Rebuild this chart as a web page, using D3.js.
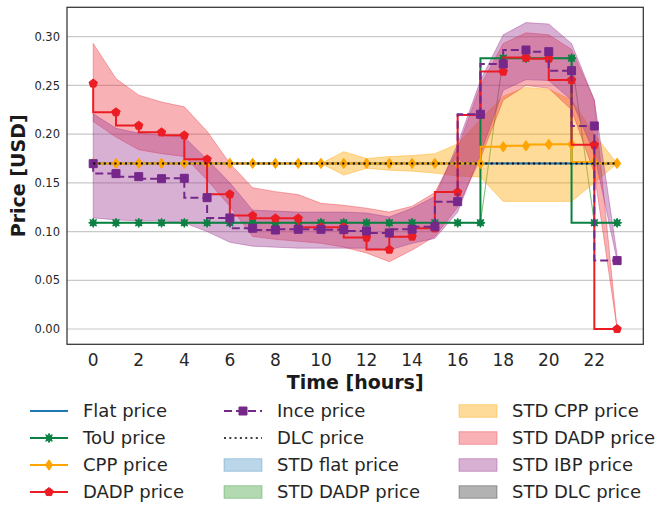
<!DOCTYPE html>
<html>
<head>
<meta charset="utf-8">
<script src="https://cdn.jsdelivr.net/npm/d3@7"></script>
<style>
  body { margin: 0; background: #fff; }
  text { font-family: "DejaVu Sans", sans-serif; }
</style>
</head>
<body>
<svg id="chart" width="659" height="508"></svg>
<script>
// Hour of day
const hours = [0,1,2,3,4,5,6,7,8,9,10,11,12,13,14,15,16,17,18,19,20,21,22,23];

// Price series [USD]
const flatPrice = [0.17,0.17,0.17,0.17,0.17,0.17,0.17,0.17,0.17,0.17,0.17,0.17,0.17,0.17,0.17,0.17,0.17,0.17,0.17,0.17,0.17,0.17,0.17,0.17];
const touPrice  = [0.109,0.109,0.109,0.109,0.109,0.109,0.109,0.109,0.109,0.109,0.109,0.109,0.109,0.109,0.109,0.109,0.109,0.109,0.278,0.278,0.278,0.278,0.109,0.109];
const cppPrice  = [0.17,0.17,0.17,0.17,0.17,0.17,0.17,0.17,0.17,0.17,0.17,0.17,0.17,0.17,0.17,0.17,0.17,0.17,0.187,0.188,0.1895,0.1896,0.1715,0.17];
const dadpPrice = [0.252,0.2225,0.2088,0.2019,0.1988,0.1742,0.1383,0.1164,0.1136,0.1136,0.1045,0.1045,0.0938,0.0815,0.0948,0.1034,0.1405,0.2197,0.2642,0.2786,0.2775,0.2555,0.189,0.0];
const incePrice = [0.1697,0.1595,0.1564,0.1543,0.1547,0.1348,0.114,0.1034,0.1016,0.1023,0.1023,0.1020,0.1006,0.0986,0.1023,0.105,0.1307,0.2204,0.272,0.2864,0.2847,0.2652,0.2084,0.0702];
const dlcPrice  = [0.17,0.17,0.17,0.17,0.17,0.17,0.17,0.17,0.17,0.17,0.17,0.17,0.17,0.17,0.17,0.17,0.17,0.17,0.17,0.17,0.17,0.17,0.17,0.17];

// Standard-deviation bands (lower / upper edge)
const cppLow   = [0.17,0.17,0.17,0.17,0.17,0.17,0.17,0.17,0.17,0.17,0.17,0.158,0.165,0.163,0.162,0.160,0.157,0.156,0.131,0.131,0.131,0.131,0.150,0.17];
const cppHigh  = [0.17,0.17,0.17,0.17,0.17,0.17,0.17,0.17,0.17,0.17,0.17,0.182,0.175,0.177,0.178,0.180,0.190,0.215,0.239,0.248,0.246,0.235,0.200,0.17];
const dadpLow  = [0.213,0.197,0.184,0.180,0.177,0.153,0.126,0.095,0.092,0.090,0.088,0.084,0.078,0.069,0.081,0.095,0.125,0.175,0.235,0.250,0.247,0.225,0.160,0.0];
const dadpHigh = [0.293,0.257,0.240,0.233,0.228,0.203,0.170,0.145,0.141,0.138,0.129,0.127,0.124,0.120,0.126,0.140,0.185,0.250,0.293,0.304,0.302,0.287,0.235,0.0];
const ibpLow   = [0.114,0.112,0.111,0.111,0.109,0.100,0.089,0.085,0.084,0.083,0.083,0.083,0.083,0.081,0.088,0.093,0.120,0.180,0.245,0.256,0.255,0.235,0.180,0.070];
const ibpHigh  = [0.221,0.206,0.201,0.199,0.197,0.174,0.150,0.122,0.121,0.120,0.120,0.120,0.119,0.115,0.124,0.136,0.190,0.255,0.302,0.3145,0.313,0.293,0.235,0.076];

// Axis ticks
const xTicks = [0,2,4,6,8,10,12,14,16,18,20,22];
const yTicks = [0.00,0.05,0.10,0.15,0.20,0.25,0.30];

const C = {
  flat: "#1f77b4", tou: "#0b8043", cpp: "#ffa500", dadp: "#ec1c24",
  ince: "#76288a", dlc: "#000000",
  ibpFill: "#9e3a94", dadpFill: "#eb232c", dlcFill: "#000000"
};

const svg = d3.select("#chart");
const P = { left: 67, right: 643.3, top: 7.3, bottom: 344.3 };

const x = d3.scaleLinear().domain([-1.15, 24.15]).range([P.left, P.right]);
const y = d3.scaleLinear().domain([-0.0157, 0.3302]).range([P.bottom, P.top]);

svg.append("defs").append("clipPath").attr("id", "plotclip")
  .append("rect").attr("x", P.left).attr("y", P.top)
  .attr("width", P.right - P.left).attr("height", P.bottom - P.top);

// Horizontal grid
svg.append("g").selectAll("line").data(yTicks).join("line")
  .attr("x1", P.left).attr("x2", P.right)
  .attr("y1", d => y(d)).attr("y2", d => y(d))
  .attr("stroke", "#c9c9c9").attr("stroke-width", 1.2);

const plot = svg.append("g").attr("clip-path", "url(#plotclip)");

// Bands
const band = (lo, hi) => d3.area()
  .x((d, i) => x(hours[i]))
  .y0((d, i) => y(lo[i]))
  .y1((d, i) => y(hi[i]))(hours);

const bands = [
  { lo: flatPrice, hi: flatPrice, color: C.flat, a: 0.3 },
  { lo: touPrice,  hi: touPrice,  color: "#008000", a: 0.3 },
  { lo: cppLow,    hi: cppHigh,   color: C.cpp, a: 0.4 },
  { lo: dadpLow,   hi: dadpHigh,  color: C.dadpFill, a: 0.35 },
  { lo: ibpLow,    hi: ibpHigh,   color: C.ibpFill, a: 0.4 },
  { lo: dlcPrice,  hi: dlcPrice,  color: C.dlcFill, a: 0.3 }
];
bands.forEach(b => {
  plot.append("path").attr("d", band(b.lo, b.hi))
    .attr("fill", b.color).attr("fill-opacity", b.a)
    .attr("stroke", b.color).attr("stroke-opacity", b.a).attr("stroke-width", 1);
});

// Marker shapes
const markers = {
  star: r => {
    const pts = [];
    for (let k = 0; k < 16; k++) {
      const ang = -Math.PI / 2 + k * Math.PI / 8;
      const rr = k % 2 === 0 ? r : r * 0.55;
      pts.push([rr * Math.cos(ang), rr * Math.sin(ang)]);
    }
    return "M" + pts.map(p => p.join(",")).join("L") + "Z";
  },
  diamond: r => `M0,${-r * 1.2}L${r * 0.85},0L0,${r * 1.2}L${-r * 0.85},0Z`,
  pentagon: r => {
    const pts = [];
    for (let k = 0; k < 5; k++) {
      const ang = -Math.PI / 2 + k * 2 * Math.PI / 5;
      pts.push([r * Math.cos(ang), r * Math.sin(ang)]);
    }
    return "M" + pts.map(p => p.join(",")).join("L") + "Z";
  },
  square: r => `M${-r},${-r}H${r}V${r}H${-r}Z`
};

const stepLine = d3.line().curve(d3.curveStepBefore)
  .x((d, i) => x(hours[i])).y(d => y(d));

const series = [
  { values: flatPrice, color: C.flat, dash: null, marker: null },
  { values: touPrice,  color: C.tou,  dash: null, marker: "star", r: 4.6 },
  { values: cppPrice,  color: C.cpp,  dash: null, marker: "diamond", r: 4.3 },
  { values: dadpPrice, color: C.dadp, dash: null, marker: "pentagon", r: 4.4 },
  { values: incePrice, color: C.ince, dash: "8,4", marker: "square", r: 4 },
  { values: dlcPrice,  color: C.dlc,  dash: "2,3.3", marker: null }
];

series.forEach(s => {
  plot.append("path").attr("d", stepLine(s.values))
    .attr("fill", "none").attr("stroke", s.color).attr("stroke-width", 2)
    .attr("stroke-dasharray", s.dash);
  if (s.marker) {
    plot.append("g").selectAll("path").data(s.values).join("path")
      .attr("transform", (d, i) => `translate(${x(hours[i])},${y(d)})`)
      .attr("d", markers[s.marker](s.r))
      .attr("fill", s.color).attr("stroke", s.color).attr("stroke-width", 1);
  }
});

// Frame
svg.append("rect").attr("x", P.left).attr("y", P.top)
  .attr("width", P.right - P.left).attr("height", P.bottom - P.top)
  .attr("fill", "none").attr("stroke", "#333").attr("stroke-width", 1.25);

// Tick labels
svg.append("g").selectAll("text").data(yTicks).join("text")
  .attr("x", 60).attr("y", d => y(d) + 4.2)
  .attr("text-anchor", "end").attr("font-size", 11.5).attr("fill", "#262626")
  .text(d => d3.format(".2f")(d));

svg.append("g").selectAll("text").data(xTicks).join("text")
  .attr("x", d => x(d)).attr("y", 366)
  .attr("text-anchor", "middle").attr("font-size", 17).attr("fill", "#262626")
  .text(d => d);

// Axis titles
svg.append("text").attr("x", x(11.5)).attr("y", 388.5)
  .attr("text-anchor", "middle").attr("font-size", 19).attr("font-weight", "bold")
  .attr("fill", "#1a1a1a").text("Time [hours]");
svg.append("text")
  .attr("transform", `translate(25,${(P.top + P.bottom) / 2}) rotate(-90)`)
  .attr("text-anchor", "middle").attr("font-size", 19).attr("font-weight", "bold")
  .attr("fill", "#1a1a1a").text("Price [USD]");

// Legend
const rows = [411, 438, 465, 492];
const legendItems = [
  { col: 0, row: 0, label: "Flat price", type: "line", s: series[0] },
  { col: 0, row: 1, label: "ToU price",  type: "line", s: series[1] },
  { col: 0, row: 2, label: "CPP price",  type: "line", s: series[2] },
  { col: 0, row: 3, label: "DADP price", type: "line", s: series[3] },
  { col: 1, row: 0, label: "Ince price", type: "line", s: series[4] },
  { col: 1, row: 1, label: "DLC price",  type: "line", s: series[5] },
  { col: 1, row: 2, label: "STD flat price", type: "patch", b: bands[0] },
  { col: 1, row: 3, label: "STD DADP price", type: "patch", b: bands[1] },
  { col: 2, row: 0, label: "STD CPP price",  type: "patch", b: bands[2] },
  { col: 2, row: 1, label: "STD DADP price", type: "patch", b: bands[3] },
  { col: 2, row: 2, label: "STD IBP price",  type: "patch", b: bands[4] },
  { col: 2, row: 3, label: "STD DLC price",  type: "patch", b: bands[5] }
];
const colX = [30, 224, 459];
const handleW = 38;
const leg = svg.append("g");
legendItems.forEach(it => {
  const x0 = colX[it.col], cy = rows[it.row];
  if (it.type === "line") {
    const s = it.s;
    leg.append("line").attr("x1", x0).attr("x2", x0 + handleW)
      .attr("y1", cy).attr("y2", cy)
      .attr("stroke", s.color).attr("stroke-width", s.dash === "2,3.3" ? 1.5 : 2)
      .attr("stroke-dasharray", s.dash);
    if (s.marker) {
      leg.append("path").attr("transform", `translate(${x0 + handleW / 2},${cy})`)
        .attr("d", markers[s.marker](s.r))
        .attr("fill", s.color).attr("stroke", s.color).attr("stroke-width", 1);
    }
  } else {
    leg.append("rect").attr("x", x0).attr("y", cy - 6.3)
      .attr("width", handleW).attr("height", 12.6)
      .attr("fill", it.b.color).attr("fill-opacity", it.b.a)
      .attr("stroke", it.b.color).attr("stroke-opacity", it.b.a);
  }
  leg.append("text").attr("x", x0 + handleW + 15).attr("y", cy + 6.3)
    .attr("font-size", 18).attr("fill", "#262626").text(it.label);
});
</script>
</body>
</html>
